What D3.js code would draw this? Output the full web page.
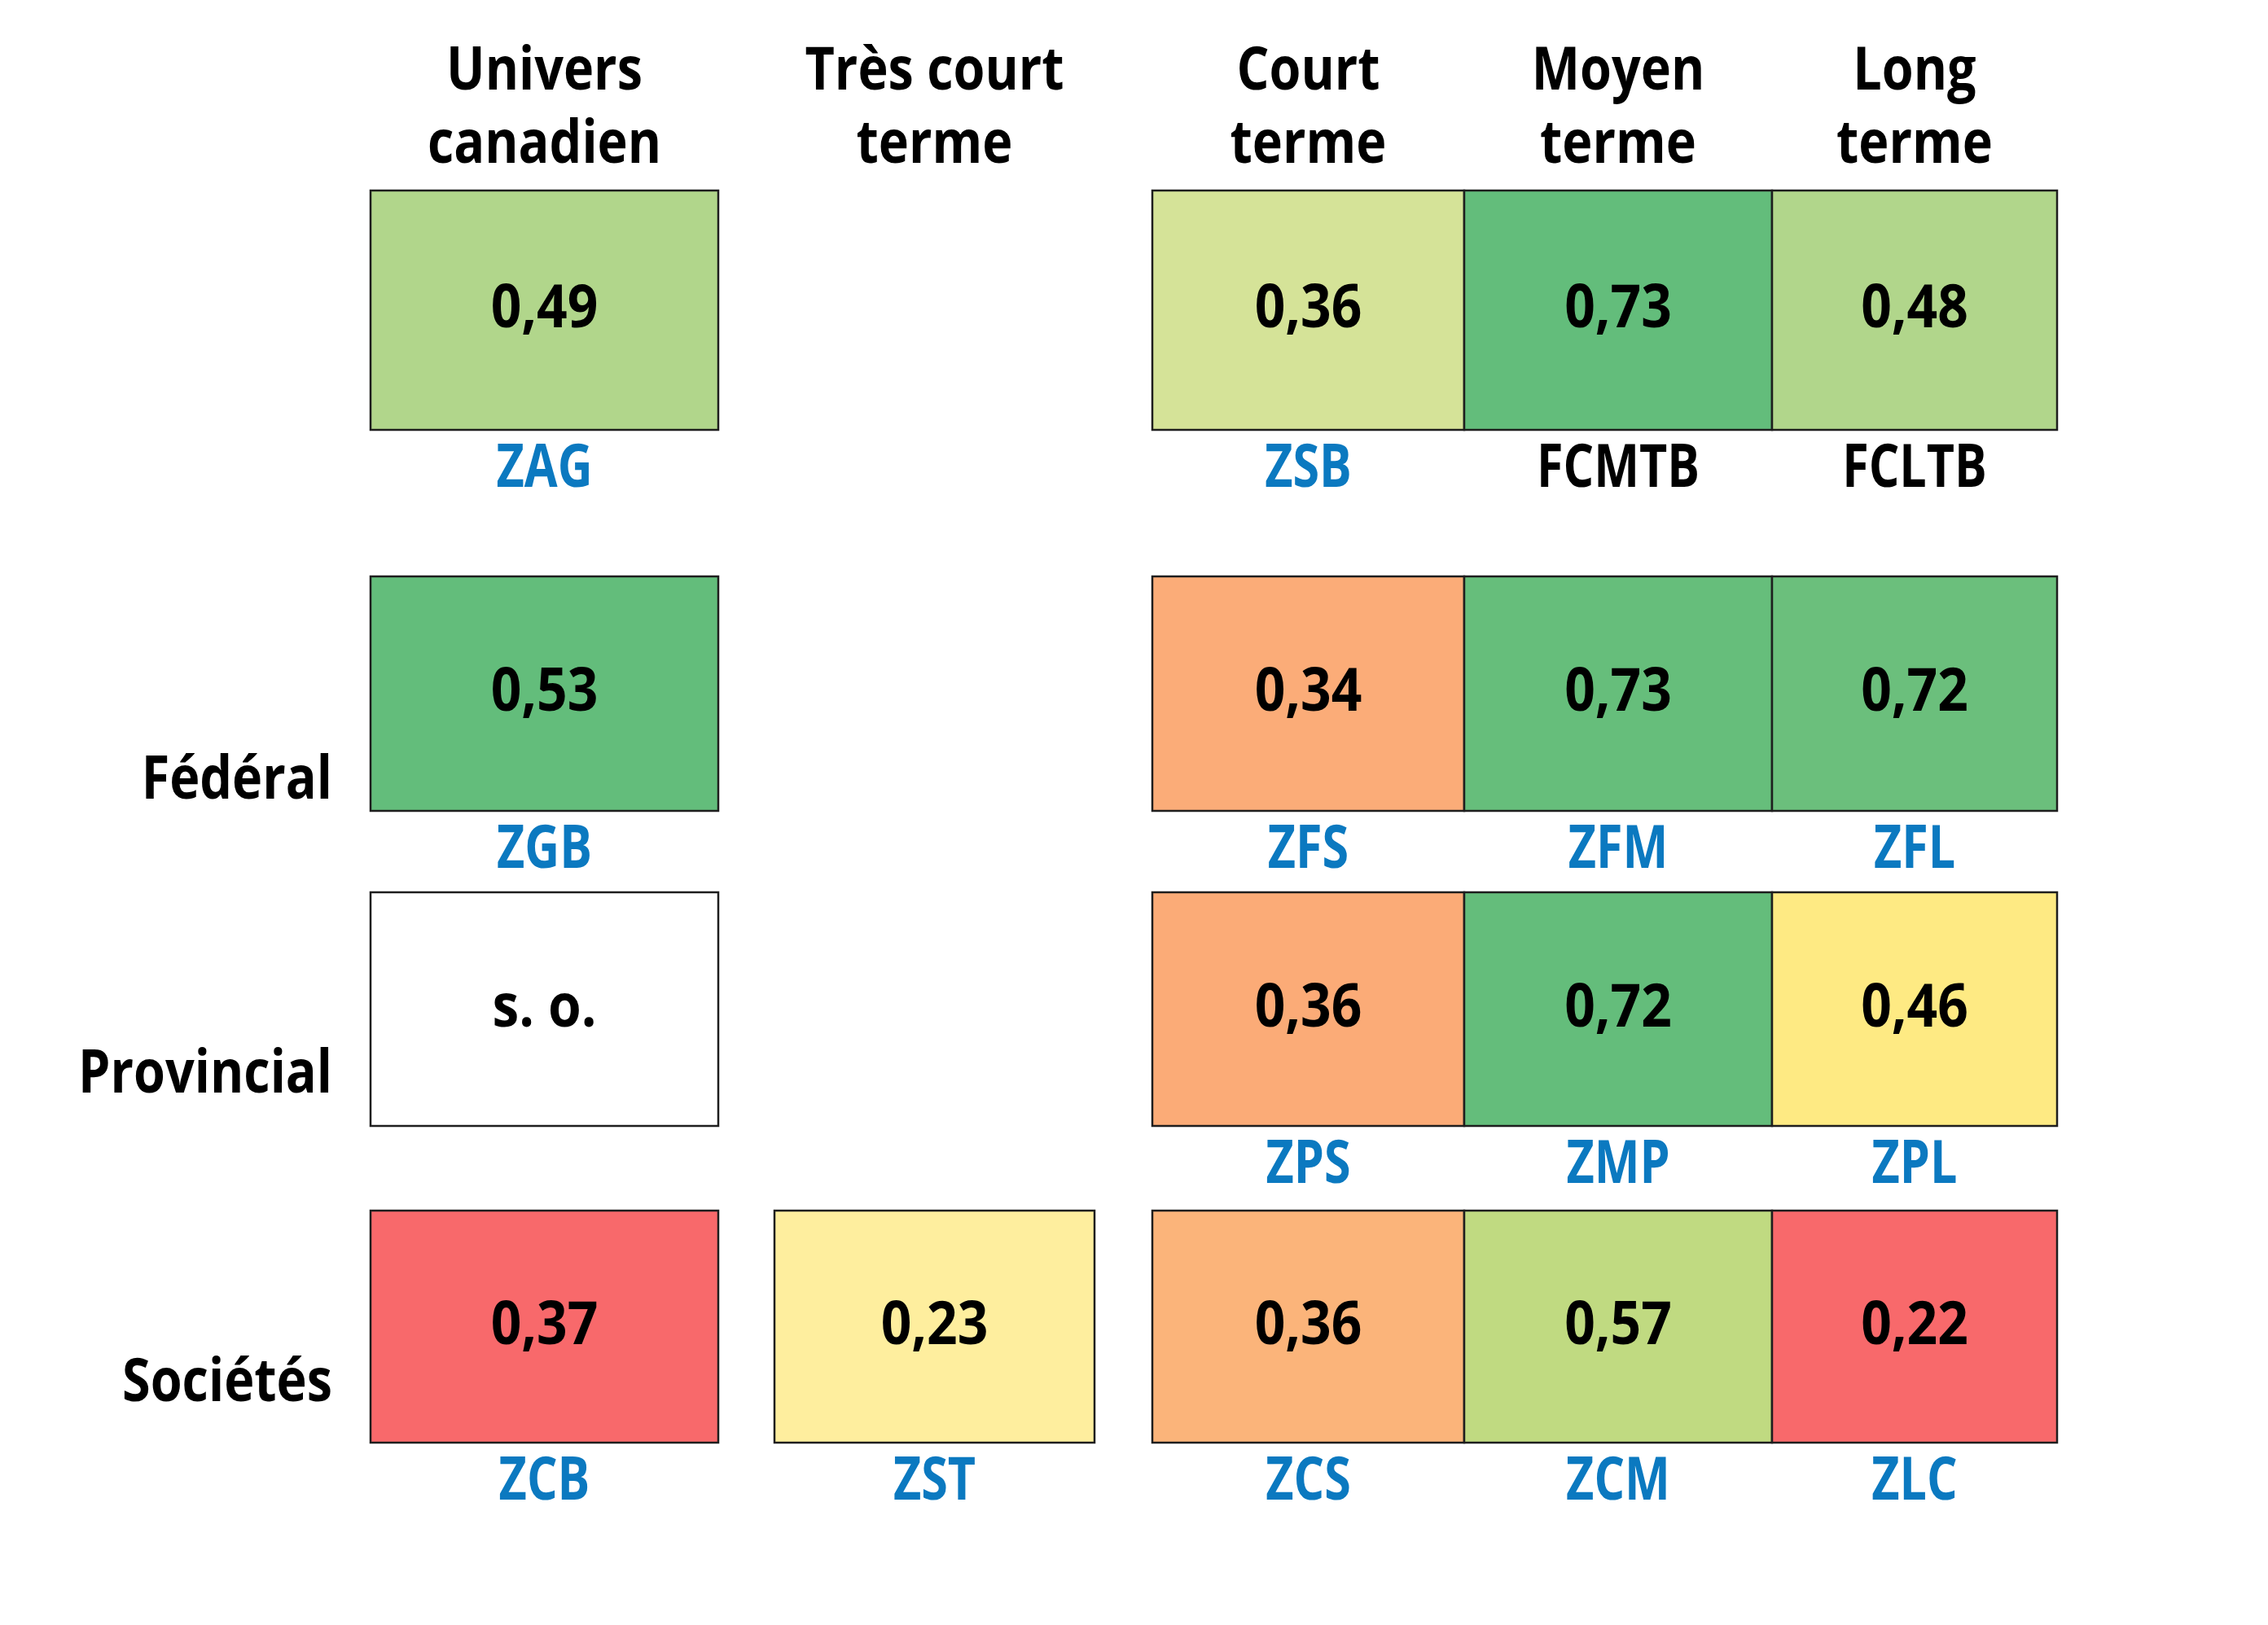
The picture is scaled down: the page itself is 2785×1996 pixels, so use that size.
<!DOCTYPE html>
<html><head><meta charset="utf-8">
<script src="https://cdn.jsdelivr.net/npm/d3@7"></script>
<style>html,body{margin:0;padding:0;background:#fff;}svg{display:block;}</style>
</head><body>
<script>
// ---- data ----
const columns = ["Univers canadien", "Très court terme", "Court terme", "Moyen terme", "Long terme"];
const headerLines = [["Univers", "canadien"], ["Très court", "terme"], ["Court", "terme"], ["Moyen", "terme"], ["Long", "terme"]];
const rowKeys = ["Total", "Fédéral", "Provincial", "Sociétés"];
const rowLabels = ["", "Fédéral", "Provincial", "Sociétés"];
const values = [
  [0.49, null, 0.36, 0.73, 0.48],
  [0.53, null, 0.34, 0.73, 0.72],
  ["s. o.", null, 0.36, 0.72, 0.46],
  [0.37, 0.23, 0.36, 0.57, 0.22]
];
const tickers = [
  ["ZAG", null, "ZSB", "FCMTB", "FCLTB"],
  ["ZGB", null, "ZFS", "ZFM", "ZFL"],
  ["", null, "ZPS", "ZMP", "ZPL"],
  ["ZCB", "ZST", "ZCS", "ZCM", "ZLC"]
];
const blackTickers = ["FCMTB", "FCLTB"];
// cell fill colours (style)
const cellColors = [
  ["#b1d68b", null, "#d5e398", "#63bd7b", "#b1d68b"],
  ["#63bd7b", null, "#fbac78", "#66be7b", "#6bbf7c"],
  ["#ffffff", null, "#fbab77", "#64bd7b", "#feea83"],
  ["#f8696b", "#feee9e", "#fbb47a", "#c0da81", "#f8696b"]
];

// ---- layout ----
const W = 2785, H = 1996;
const FONT = "'Open Sans','Noto Sans',sans-serif";
const FS = 74, FW = 700;
const SX_HDR = 0.85, SX_VAL = 0.89, SX_TK = 0.8;
const x = d3.scaleOrdinal(columns, [455, 951, 1415, 1798, 2176]);
const w = d3.scaleOrdinal(columns, [427, 393, 383, 378, 350]);
const y = d3.scaleOrdinal(rowKeys, [234, 708, 1096, 1487]);
const h = d3.scaleOrdinal(rowKeys, [294, 288, 287, 285]);
const rowLabelDy = [0, 15, 41, 51];
const fmt = d3.formatLocale({decimal: ",", thousands: " ", grouping: [3], currency: ["", "$"]}).format(".2f");
const place = (fx, fy, sx) => d => `translate(${fx(d)},${fy(d)}) scale(${sx},1)`;

const svg = d3.select("body").append("svg").attr("width", W).attr("height", H)
  .style("font-family", FONT);
svg.append("rect").attr("width", W).attr("height", H).attr("fill", "#fff");

// headers (one text per line)
const hdrData = [];
columns.forEach((c, i) => headerLines[i].forEach((t, j) => hdrData.push({c, t, j})));
svg.append("g").selectAll("text").data(hdrData).join("text")
  .attr("transform", place(d => x(d.c) + w(d.c) / 2, d => 110 + d.j * 90, SX_HDR))
  .attr("text-anchor", "middle")
  .attr("font-size", FS).attr("font-weight", FW).attr("fill", "#000")
  .text(d => d.t);

// cells
const cells = [];
values.forEach((row, r) => row.forEach((v, c) => {
  if (v !== null) cells.push({r, c, v, col: columns[c], row: rowKeys[r], ticker: tickers[r][c], color: cellColors[r][c]});
}));

const g = svg.append("g");
g.selectAll("rect.cell").data(cells).join("rect").attr("class", "cell")
  .attr("x", d => x(d.col)).attr("y", d => y(d.row))
  .attr("width", d => w(d.col)).attr("height", d => h(d.row))
  .attr("fill", d => d.color).attr("stroke", "#1e1e1e").attr("stroke-width", 2.5);

g.selectAll("text.val").data(cells).join("text").attr("class", "val")
  .attr("transform", place(d => x(d.col) + w(d.col) / 2, d => y(d.row) + h(d.row) / 2 + 21, SX_VAL))
  .attr("text-anchor", "middle").attr("font-size", FS).attr("font-weight", FW).attr("fill", "#000")
  .text(d => typeof d.v === "number" ? fmt(d.v) : d.v);

g.selectAll("text.tk").data(cells.filter(d => d.ticker)).join("text").attr("class", "tk")
  .attr("transform", place(d => x(d.col) + w(d.col) / 2, d => y(d.row) + h(d.row) + 70, SX_TK))
  .attr("text-anchor", "middle").attr("font-size", FS).attr("font-weight", FW)
  .attr("fill", d => blackTickers.includes(d.ticker) ? "#000" : "#0b79c0")
  .text(d => d.ticker);

// row labels
svg.append("g").selectAll("text").data(rowKeys.map((k, i) => ({k, i})).filter(d => rowLabels[d.i])).join("text")
  .attr("transform", place(() => 408, d => y(d.k) + h(d.k) - rowLabelDy[d.i], SX_HDR))
  .attr("text-anchor", "end").attr("font-size", FS).attr("font-weight", FW).attr("fill", "#000")
  .text(d => rowLabels[d.i]);
</script>
</body></html>
